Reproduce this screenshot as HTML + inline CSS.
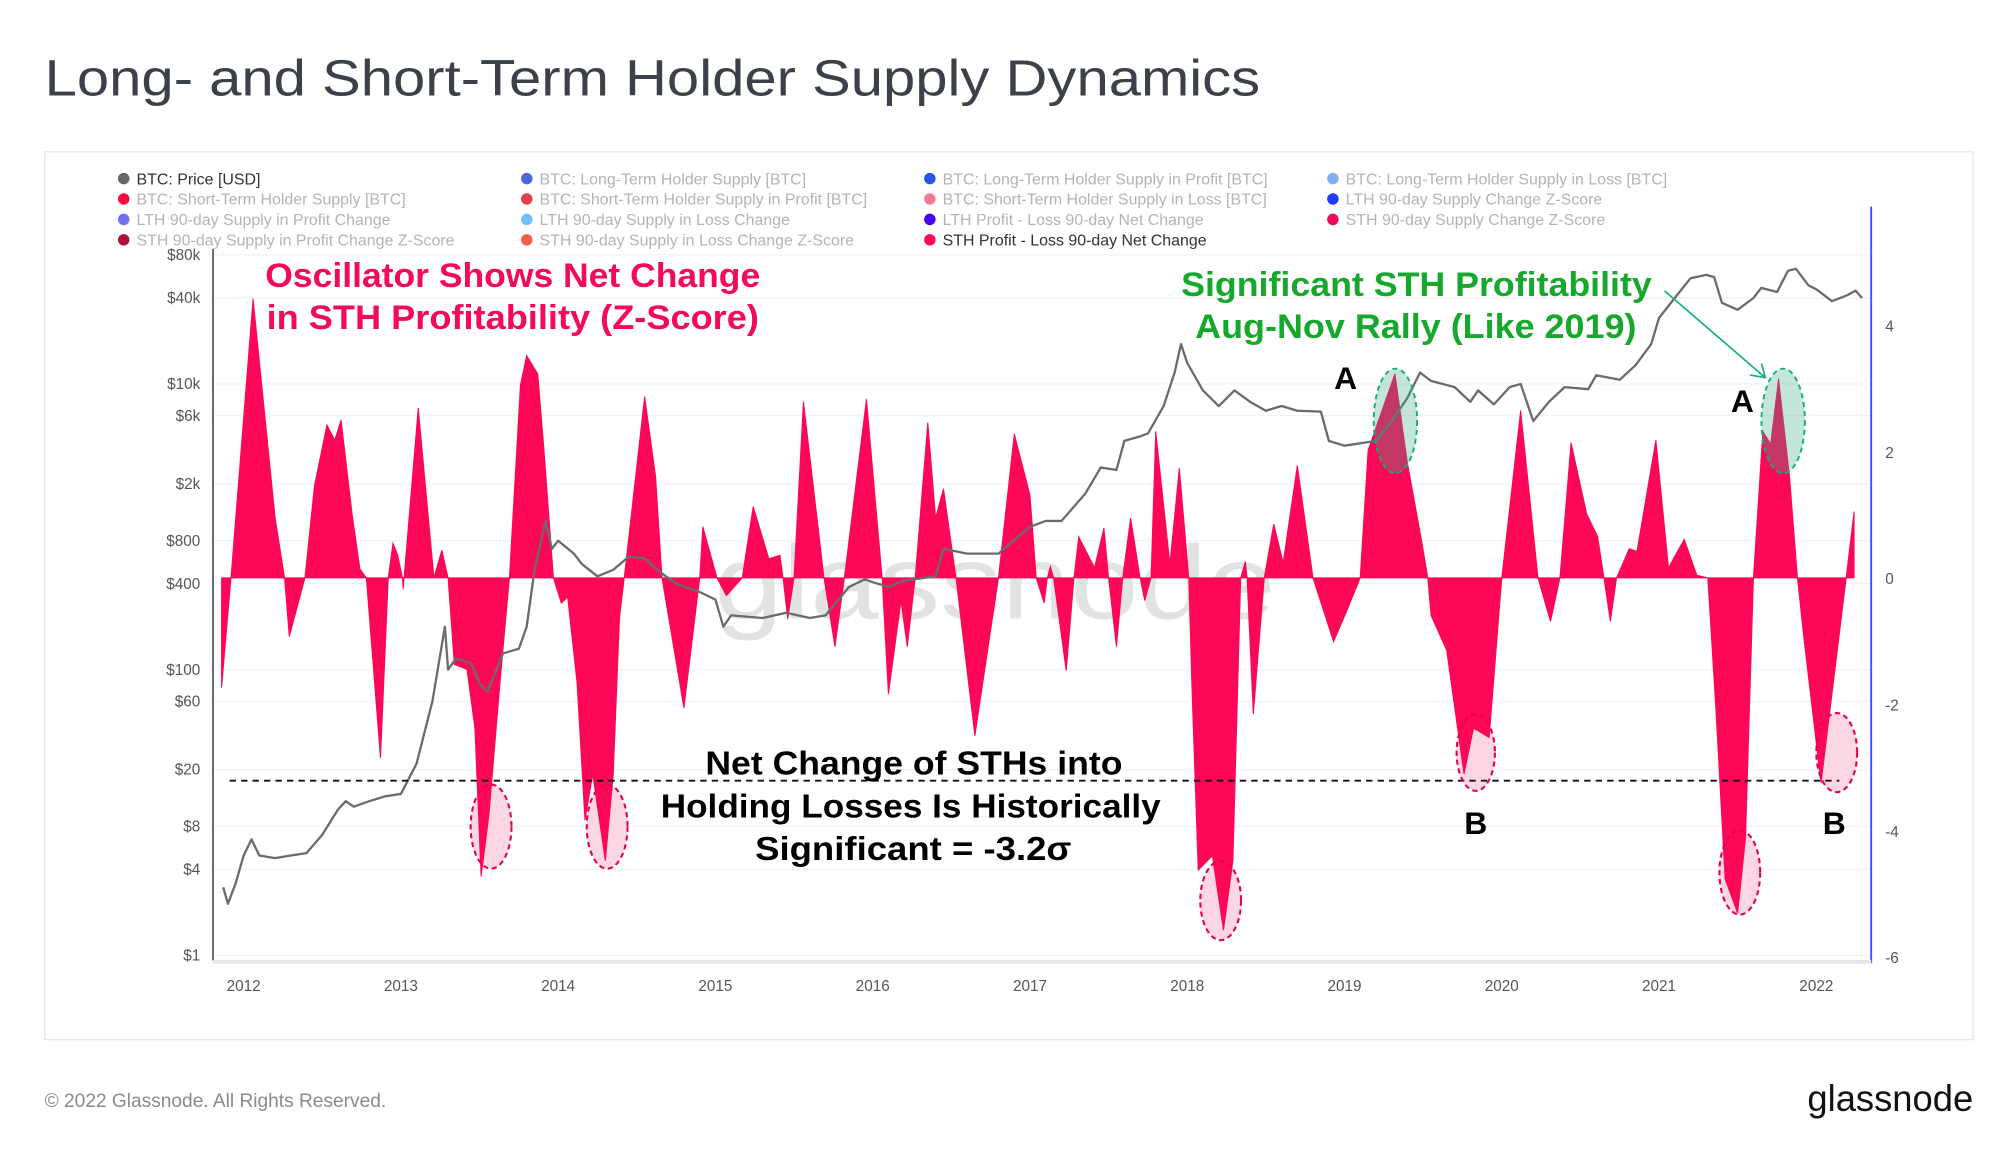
<!DOCTYPE html>
<html><head><meta charset="utf-8"><style>
html,body{margin:0;padding:0;background:#fff;}
svg{display:block;font-family:"Liberation Sans",sans-serif;}
</style></head><body>
<svg id="chart" width="2000" height="1152" viewBox="0 0 1568 903.1" preserveAspectRatio="none" xmlns="http://www.w3.org/2000/svg">
<rect x="0" y="0" width="1568" height="904" fill="#fff"/>
<text x="35" y="75" font-size="40" fill="#3c4049" textLength="953" lengthAdjust="spacingAndGlyphs">Long- and Short-Term Holder Supply Dynamics</text>
<rect x="35" y="119" width="1512" height="696" fill="none" stroke="#e6e6e6" stroke-width="1"/>
<g id="legend" font-size="12.5"></g>
<g id="grid"></g>
<text x="780" y="485" font-size="82" fill="#e2e2e2" text-anchor="middle" textLength="440" lengthAdjust="spacingAndGlyphs">glassnode</text>
<g id="lossEllipses"></g>
<g id="bars"></g>
<g id="price"></g>
<line x1="167" y1="195" x2="167" y2="753" stroke="#666" stroke-width="1.5"/>
<line x1="1467" y1="162" x2="1467" y2="755" stroke="#3355ff" stroke-width="1.5"/>
<line x1="167" y1="754" x2="1467" y2="754" stroke="#e6e6e6" stroke-width="3"/>
<g id="axes" font-size="12" fill="#555"></g>
<line x1="180" y1="612" x2="1442" y2="612" stroke="#111" stroke-width="1.4" stroke-dasharray="5,4"/>
<g id="ellipses"></g>
<g font-weight="bold">
<text x="208" y="225" font-size="27" fill="#f5095a" textLength="388" lengthAdjust="spacingAndGlyphs">Oscillator Shows Net Change</text>
<text x="209" y="258" font-size="27" fill="#f5095a" textLength="386" lengthAdjust="spacingAndGlyphs">in STH Profitability (Z-Score)</text>
<text x="926" y="232" font-size="27" fill="#16a82c" textLength="369" lengthAdjust="spacingAndGlyphs">Significant STH Profitability</text>
<text x="937" y="265" font-size="27" fill="#16a82c" textLength="346" lengthAdjust="spacingAndGlyphs">Aug-Nov Rally (Like 2019)</text>
<text x="553" y="607" font-size="26" fill="#000" textLength="327" lengthAdjust="spacingAndGlyphs">Net Change of STHs into</text>
<text x="518" y="641" font-size="26" fill="#000" textLength="392" lengthAdjust="spacingAndGlyphs">Holding Losses Is Historically</text>
<text x="592" y="674" font-size="26" fill="#000" textLength="248" lengthAdjust="spacingAndGlyphs">Significant = -3.2σ</text>
<text x="1046" y="305" font-size="25" fill="#000">A</text>
<text x="1357" y="323" font-size="25" fill="#000">A</text>
<text x="1148" y="654" font-size="25" fill="#000">B</text>
<text x="1429" y="654" font-size="25" fill="#000">B</text>
</g>
<g stroke="#13b07a" stroke-width="1.3" fill="none">
<line x1="1305" y1="228" x2="1384" y2="296"/>
<polyline points="1372,294 1384,296 1381,285"/>
</g>
<text x="35" y="868" font-size="15" fill="#8a8a8a">© 2022 Glassnode. All Rights Reserved.</text>
<text x="1547" y="871" font-size="29" fill="#111" text-anchor="end" textLength="130" lengthAdjust="spacingAndGlyphs">glassnode</text>
</svg>
<script>
const oscDates=[2011.86,2011.92,2012.06,2012.20,2012.26,2012.29,2012.39,2012.45,2012.53,2012.58,2012.62,2012.69,2012.74,2012.78,2012.87,2012.92,2012.95,2012.98,2013.01,2013.015,2013.02,2013.11,2013.21,2013.26,2013.30,2013.34,2013.42,2013.47,2013.51,2013.56,2013.63,2013.69,2013.76,2013.80,2013.87,2013.91,2013.97,2014.02,2014.06,2014.12,2014.17,2014.22,2014.30,2014.35,2014.39,2014.42,2014.55,2014.62,2014.66,2014.80,2014.90,2014.92,2015.01,2015.07,2015.17,2015.24,2015.34,2015.41,2015.43,2015.46,2015.50,2015.56,2015.69,2015.76,2015.82,2015.96,2016.06,2016.10,2016.18,2016.22,2016.27,2016.35,2016.40,2016.45,2016.53,2016.65,2016.80,2016.90,2017.00,2017.04,2017.09,2017.11,2017.13,2017.15,2017.23,2017.28,2017.31,2017.41,2017.47,2017.50,2017.55,2017.59,2017.64,2017.70,2017.73,2017.77,2017.80,2017.89,2017.95,2018.01,2018.03,2018.07,2018.16,2018.23,2018.29,2018.34,2018.37,2018.38,2018.42,2018.49,2018.55,2018.61,2018.70,2018.80,2018.93,2019.01,2019.10,2019.15,2019.32,2019.40,2019.49,2019.53,2019.55,2019.65,2019.76,2019.82,2019.92,2020.00,2020.12,2020.23,2020.31,2020.37,2020.44,2020.54,2020.61,2020.65,2020.69,2020.73,2020.81,2020.86,2020.98,2021.06,2021.16,2021.24,2021.31,2021.36,2021.42,2021.50,2021.55,2021.60,2021.66,2021.71,2021.76,2021.83,2021.88,2021.92,2022.03,2022.19,2022.24];
const oscValues=[-1.74,0,4.42,0.95,0,-0.93,0,1.45,2.42,2.18,2.5,1.0,0.14,0,-2.85,0,0.55,0.36,0,-0.18,0,2.69,0,0.44,0,-1.37,-1.45,-2.38,-4.73,-3.76,-1.66,0,3.05,3.52,3.23,2.02,0,-0.4,-0.3,-1.66,-3.84,-3.11,-4.48,-3.11,-0.63,0,2.87,1.6,0,-2.06,0,0.81,0,-0.28,0,1.13,0.3,0.36,0,-0.65,0,2.79,0,-1.09,0,2.83,0,-1.84,-0.36,-1.09,0,2.46,0.95,1.41,0,-2.5,0,2.28,1.31,0,-0.4,0,0.18,0,-1.47,0,0.65,0.16,0.79,0,-1.09,0,0.95,0,-0.36,0,2.32,0.22,1.74,0,-1.74,-4.63,-4.4,-5.58,-4.48,0,0.26,0,-2.16,0,0.85,0.24,1.78,0,-1.01,-0.55,0,2.02,3.23,1.82,0.59,0,-0.59,-1.15,-3.11,-2.38,-2.53,0,2.65,0,-0.69,0,2.14,1.01,0.65,0,-0.69,0,0.46,0.42,2.18,0.16,0.61,0.04,0,-2.02,-4.77,-5.31,-4.12,0,2.32,2.12,3.15,1.6,0,-0.93,-3.25,0,1.05];
const priceDates=[2011.87,2011.9,2011.95,2012.0,2012.05,2012.1,2012.2,2012.3,2012.4,2012.5,2012.6,2012.65,2012.7,2012.8,2012.9,2013.0,2013.1,2013.2,2013.28,2013.3,2013.35,2013.45,2013.5,2013.55,2013.65,2013.75,2013.8,2013.85,2013.92,2013.96,2014.0,2014.1,2014.15,2014.25,2014.35,2014.45,2014.55,2014.65,2014.75,2014.9,2015.0,2015.05,2015.1,2015.3,2015.45,2015.6,2015.7,2015.85,2015.95,2016.0,2016.1,2016.2,2016.4,2016.45,2016.6,2016.8,2016.95,2017.0,2017.1,2017.2,2017.35,2017.45,2017.55,2017.6,2017.7,2017.75,2017.85,2017.92,2017.96,2018.0,2018.1,2018.2,2018.3,2018.4,2018.5,2018.6,2018.7,2018.85,2018.9,2019.0,2019.2,2019.3,2019.4,2019.48,2019.55,2019.7,2019.8,2019.85,2019.95,2020.05,2020.12,2020.2,2020.3,2020.4,2020.55,2020.6,2020.75,2020.85,2020.95,2021.0,2021.1,2021.2,2021.3,2021.35,2021.4,2021.5,2021.6,2021.65,2021.75,2021.82,2021.87,2021.95,2022.0,2022.1,2022.2,2022.25,2022.29];
const priceValues=[3,2.3,3.2,5,6.5,5,4.8,5,5.2,7,10.5,12,11,12,13,13.5,22,60,200,100,120,110,80,70,130,140,200,500,1100,700,800,650,550,450,500,620,600,480,400,350,310,200,240,230,250,230,240,380,430,410,380,420,450,700,650,650,900,1000,1100,1100,1700,2600,2500,4000,4300,4500,7000,12000,19000,14000,9000,7000,9000,7500,6500,7000,6500,6400,4000,3700,4000,5500,8000,12000,10500,9500,7500,9000,7200,9500,10000,5500,7500,9500,9200,11500,10700,13500,19000,29000,40000,55000,58000,56000,37000,33000,40000,47000,44000,62000,64000,49000,46000,38000,42000,45000,40000];
const yearTicks=[2012,2013,2014,2015,2016,2017,2018,2019,2020,2021,2022];
const priceTicks=[80000,40000,10000,6000,2000,800,400,100,60,20,8,4,1];
const priceTickLabels=["$80k","$40k","$10k","$6k","$2k","$800","$400","$100","$60","$20","$8","$4","$1"];
const zTicks=[4,2,0,-2,-4,-6];
const NS="http://www.w3.org/2000/svg";
const xS=t=>191+(t-2012)*123.3;
const zS=z=>453-z*49.5;
const pS=p=>749-Math.log10(p)*112;
function mk(tag,attrs,parent,txt){const e=document.createElementNS(NS,tag);for(const k in attrs)e.setAttribute(k,attrs[k]);if(txt!==undefined)e.textContent=txt;parent.appendChild(e);return e;}
const grid=document.getElementById('grid');
priceTicks.forEach(p=>{const l=mk('line',{x1:167,x2:1467,y1:pS(p),y2:pS(p),stroke:'#f2f2f2','stroke-width':1},grid);

});
let d='M'+xS(oscDates[0])+','+zS(0);
oscDates.forEach((t,i)=>{d+=' L'+xS(t).toFixed(1)+','+zS(oscValues[i]).toFixed(1);});
d+=' L'+xS(oscDates[oscDates.length-1])+','+zS(0)+' Z';
const area=mk('path',{d:d,fill:'#fd0757',stroke:'#fd0757','stroke-width':0.8},document.getElementById('bars'));


let pd='';
priceDates.forEach((t,i)=>{pd+=(i?' L':'M')+xS(t).toFixed(1)+','+pS(priceValues[i]).toFixed(1);});
const pl=mk('path',{d:pd,fill:'none',stroke:'#6b6b6b','stroke-width':1.8,'stroke-linejoin':'round'},document.getElementById('price'));


const ax=document.getElementById('axes');
yearTicks.forEach(y=>{const t=mk('text',{x:xS(y),y:777,'text-anchor':'middle'},ax,String(y));

});
priceTicks.forEach((p,i)=>{const t=mk('text',{x:157,y:pS(p)+4,'text-anchor':'end'},ax,priceTickLabels[i]);

});
zTicks.forEach(z=>{const t=mk('text',{x:1478,y:zS(z)+5},ax,String(z));

});
const lossG=document.getElementById('lossEllipses');
[[385,648,16,33],[476,648,16,33],[957,706,16,31],[1157,590,15,30],[1364,684,16,33],[1440,590,16,31]].forEach(e=>{
const el=mk('ellipse',{cx:e[0],cy:e[1],rx:e[2],ry:e[3],fill:'#fcd6e3',stroke:'#e8004f','stroke-width':1.5,'stroke-dasharray':'4,3'},lossG);

});
const eg=document.getElementById('ellipses');
[[385,648,16,33],[476,648,16,33],[957,706,16,31],[1157,590,15,30],[1364,684,16,33],[1440,590,16,31]].forEach(e=>{
const el=mk('ellipse',{cx:e[0],cy:e[1],rx:e[2],ry:e[3],fill:'none',stroke:'#e8004f','stroke-width':1.5,'stroke-dasharray':'4,3'},eg);

});
[[1094,330,17,41],[1398,330,17,41]].forEach(e=>{
const el=mk('ellipse',{cx:e[0],cy:e[1],rx:e[2],ry:e[3],fill:'rgba(60,170,130,0.3)',stroke:'#10b07a','stroke-width':1.5,'stroke-dasharray':'4,3'},eg);

});
const lg=document.getElementById('legend');
const legendItems=[
["BTC: Price [USD]","#666",1],["BTC: Long-Term Holder Supply [BTC]","#4a66dd",0],["BTC: Long-Term Holder Supply in Profit [BTC]","#2a55e6",0],["BTC: Long-Term Holder Supply in Loss [BTC]","#80aef0",0],
["BTC: Short-Term Holder Supply [BTC]","#ff0a40",0],["BTC: Short-Term Holder Supply in Profit [BTC]","#e0404f",0],["BTC: Short-Term Holder Supply in Loss [BTC]","#f07a92",0],["LTH 90-day Supply Change Z-Score","#1a3cff",0],
["LTH 90-day Supply in Profit Change","#7070f0",0],["LTH 90-day Supply in Loss Change","#70c0ff",0],["LTH Profit - Loss 90-day Net Change","#4a00f0",0],["STH 90-day Supply Change Z-Score","#f0085a",0],
["STH 90-day Supply in Profit Change Z-Score","#b0103a",0],["STH 90-day Supply in Loss Change Z-Score","#f06050",0],["STH Profit - Loss 90-day Net Change","#ff0a5a",1]];
const colX=[97,413,729,1045];
legendItems.forEach((it,i)=>{const r=Math.floor(i/4),c=i%4,y=140+r*16;
const g=mk('g',{},lg);


mk('circle',{cx:colX[c],cy:y,r:4.5,fill:it[1]},g);
mk('text',{x:colX[c]+10,y:y+4.5,fill:it[2]?'#333':'#b4b4b4'},g,it[0]);});
</script>
</body></html>
